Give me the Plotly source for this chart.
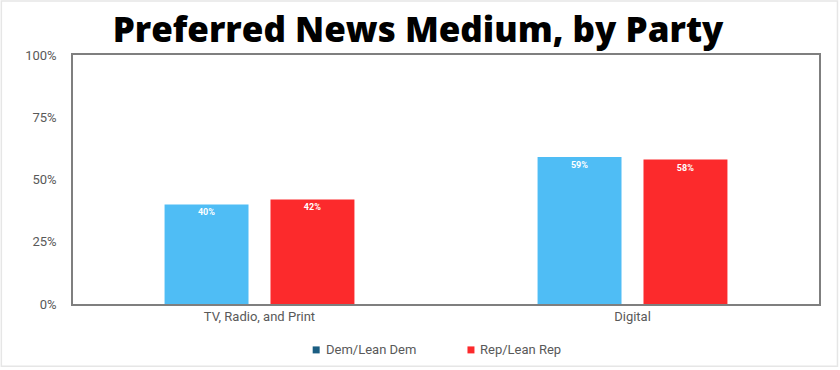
import plotly.graph_objects as go

categories = ["TV, Radio, and Print", "Digital"]
dem_values = [0.40, 0.59]
rep_values = [0.42, 0.58]
series_names = ["Dem/Lean Dem", "Rep/Lean Rep"]
bar_colors = ["#4FBDF5", "#FC2A2C"]
legend_colors = ["#1B5E82", "#FC2A2C"]
y_ticks = [0, 0.25, 0.5, 0.75, 1.0]
y_tick_labels = ["0%", "25%", "50%", "75%", "100%"]

W, H = 840, 370
L, R, T, B = 72.5, 20.5, 55, 65.5
PW, PH = W - L - R, H - T - B

fig = go.Figure()
for name, vals, col in zip(series_names, [dem_values, rep_values], bar_colors):
    fig.add_trace(go.Bar(
        x=categories, y=vals, name=name, showlegend=False,
        marker=dict(color=col, line=dict(width=0)),
        text=[f"{round(v*100)}%" for v in vals],
        textposition="inside", insidetextanchor="end",
        textfont=dict(color="white", size=9, family="Roboto", weight="bold"),
        textangle=0, cliponaxis=False, hoverinfo="skip",
    ))

# legend drawn as squares + text (matches the compact swatch/text spacing)
legend_x = [316, 471]
legend_y = 350.5
for name, col, lx in zip(series_names, legend_colors, legend_x):
    fig.add_shape(type="rect", xref="paper", yref="paper",
                  x0=(lx - 3.5 - L) / PW, x1=(lx + 3.5 - L) / PW,
                  y0=(H - B - legend_y - 3.5) / PH, y1=(H - B - legend_y + 3.5) / PH,
                  fillcolor=col, line=dict(width=0))
    fig.add_annotation(xref="paper", yref="paper", x=(lx + 7.5 - L) / PW,
                       y=(H - B - legend_y) / PH, text=name, showarrow=False,
                       xanchor="left", yanchor="middle",
                       font=dict(family="Roboto", size=13, color="#595959"))

fig.update_layout(
    width=W, height=H,
    margin=dict(l=L, r=R, t=T, b=B, autoexpand=False),
    paper_bgcolor="white", plot_bgcolor="white",
    bargap=0.432, bargroupgap=0.2075,
    uniformtext=dict(minsize=8, mode="show"),
    showlegend=False,
    title=dict(text="Preferred News Medium, by Party", x=418 / W, xanchor="center",
               xref="container", yref="container",
               y=1 - 30 / H, yanchor="middle", automargin=False,
               font=dict(family="Open Sans", size=35, color="black", weight=800)),
    font=dict(family="Roboto", size=13, color="#595959"),
)
fig.update_xaxes(showline=True, linecolor="#7F7F7F", linewidth=1.5, mirror=True,
                 ticks="", tickfont=dict(size=13, color="#595959"), showgrid=False,
                 automargin=False)
fig.update_yaxes(range=[0, 1], tickvals=y_ticks, ticktext=y_tick_labels,
                 showline=True, linecolor="#7F7F7F", linewidth=1.5, mirror=True,
                 showgrid=False, zeroline=False, ticks="", ticklabelstandoff=12,
                 tickfont=dict(size=13, color="#595959"), automargin=False)
fig.add_shape(type="rect", xref="paper", yref="paper",
              x0=(0.75 - L) / PW, x1=(838 - L) / PW,
              y0=(H - B - 367) / PH, y1=(H - B - 1) / PH,
              line=dict(color="#E6E6E6", width=1.5), layer="below")

fig.write_html("out.html", config={"displayModeBar": False},
               post_script="document.body.style.margin='0';")
